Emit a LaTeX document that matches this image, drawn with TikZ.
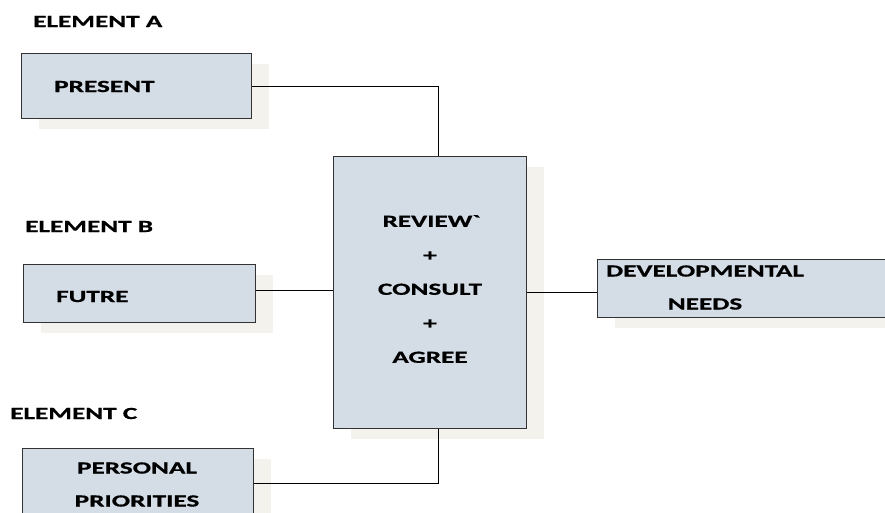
\documentclass[tikz,border=0pt]{standalone}
\usepackage{fontspec}
\setmainfont{Carlito}[FakeStretch=1.6, BoldFeatures={FakeBold=0.8}]
\usetikzlibrary{shadows}
\definecolor{boxfill}{RGB}{212,220,229}
\definecolor{shadowc}{RGB}{243,242,237}
\definecolor{boxline}{RGB}{50,50,50}
\begin{document}
\begin{tikzpicture}[x=1pt,y=-1pt,
  box/.style={draw=boxline, line width=1.3pt, fill=boxfill, inner sep=0pt, anchor=north west,
    drop shadow={shadow xshift=17pt, shadow yshift=-10pt, fill=shadowc, opacity=1}},
  lbl/.style={font=\fontsize{17}{34}\selectfont\bfseries, inner sep=0pt, text=black},
  conn/.style={draw=black, line width=1pt}]
\useasboundingbox (0,0) rectangle (885,512);
\clip (0,0) rectangle (885,512);
% boxes
\node[box, minimum width=230pt, minimum height=65pt] (present) at (21,53) {};
\node[box, minimum width=232pt, minimum height=58pt] (futre) at (23,264) {};
\node[box, minimum width=231pt, minimum height=70pt] (personal) at (22,448) {};
\node[box, minimum width=193pt, minimum height=272pt] (central) at (333,156) {};
\node[box, minimum width=320pt, minimum height=58pt] (dev) at (597,259) {};
% headings
\node[lbl, anchor=base west] (elA) at (33,27) {ELEMENT A};
\node[lbl, anchor=base west] (elB) at (25,232) {ELEMENT B};
\node[lbl, anchor=base west] (elC) at (10,419) {ELEMENT C};
% box texts
\node[lbl, anchor=base west] (tpresent) at (54,92) {PRESENT};
\node[lbl, anchor=base west] (tfutre) at (56,302) {FUTRE};
\node[lbl, align=center, font=\fontsize{17}{33}\selectfont\bfseries] (tpersonal) at (137,484.5) {PERSONAL\\PRIORITIES};
\node[lbl, align=center] (tcentral) at (430,289) {REVIEW\textasciigrave\\+\\CONSULT\\+\\AGREE};
\node[lbl, align=center, font=\fontsize{17}{33}\selectfont\bfseries] (tdev) at (705,287.5) {DEVELOPMENTAL\\NEEDS};
% connectors
\draw[conn] (present.east) -| ([xshift=8.5pt]central.north);
\draw[conn] ([yshift=3pt]futre.east) -- ([yshift=3pt]futre.east -| central.west);
\draw[conn] (personal.east) -| ([xshift=8.5pt]central.south);
\draw[conn] (central.east) -- (central.east -| dev.west);
\end{tikzpicture}
\end{document}
